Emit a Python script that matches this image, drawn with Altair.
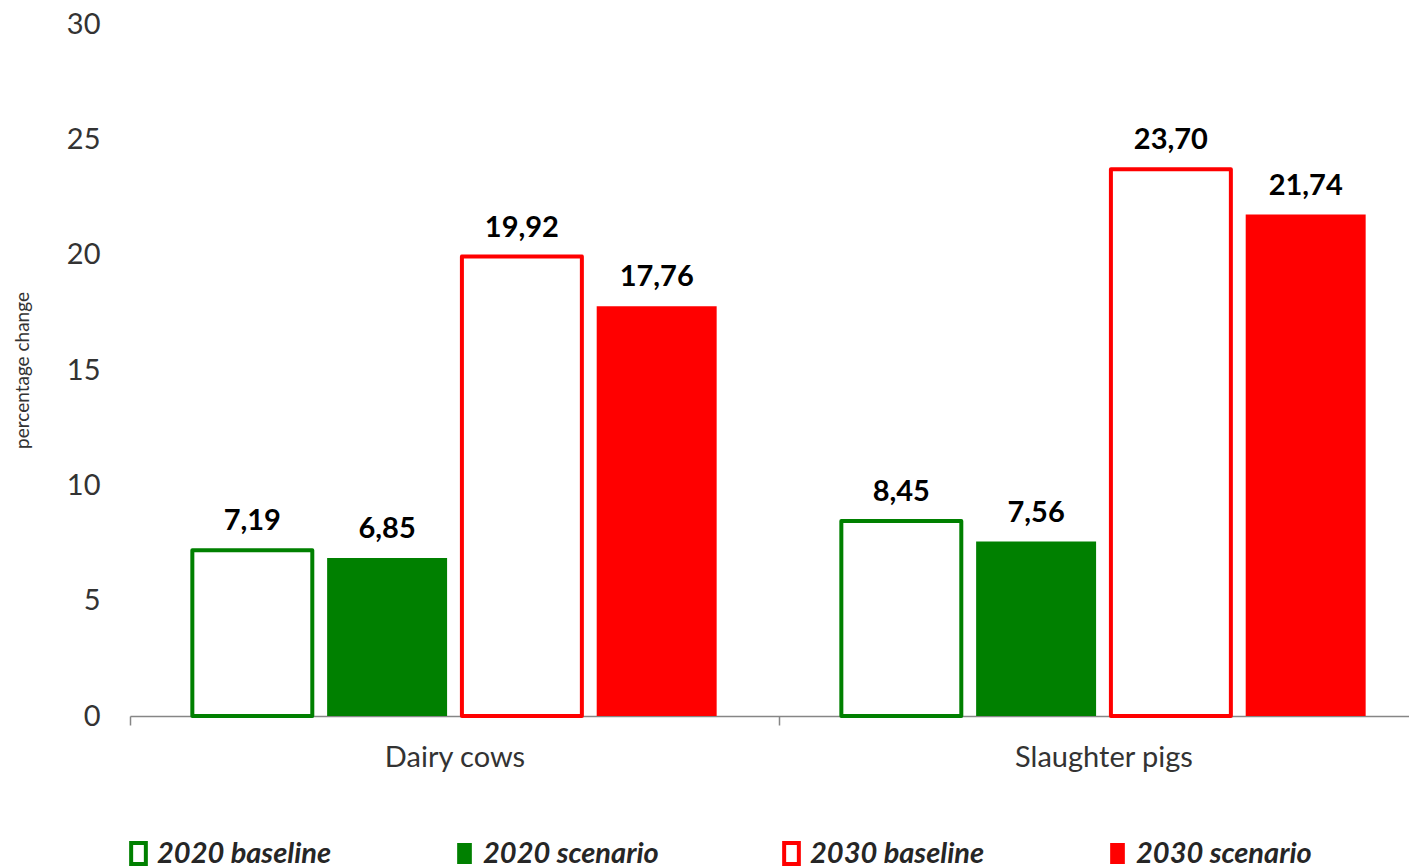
import altair as alt
import pandas as pd

categories = ["Dairy cows", "Slaughter pigs"]
series = ["2020 baseline", "2020 scenario", "2030 baseline", "2030 scenario"]
dairy_values = [7.19, 6.85, 19.92, 17.76]
pig_values = [8.45, 7.56, 23.70, 21.74]
fill_colors = ["white", "#008000", "white", "#FF0000"]
stroke_colors = ["#008000", "transparent", "#FF0000", "transparent"]
y_ticks = [0, 5, 10, 15, 20, 25, 30]

rows = []
for cat, vals in zip(categories, [dairy_values, pig_values]):
    for s, v in zip(series, vals):
        rows.append({"category": cat, "series": s, "value": v})
df = pd.DataFrame(rows)

FONT = "Lato"
legend_symbol = "M-0.7,-1L0.7,-1L0.7,1L-0.7,1Z"

leg = alt.Legend(
    title=None, orient="none", legendX=-6, legendY=815, direction="horizontal",
    columns=4, columnPadding=117, symbolType=legend_symbol, symbolSize=441,
    symbolStrokeWidth=4, labelFont=FONT, labelFontSize=29, labelFontStyle="italic",
    labelFontWeight="bold", labelColor="#262626", labelOffset=4, labelLimit=400,
)

x_enc = alt.X(
    "category:N", sort=categories,
    scale=alt.Scale(range=[0, 1298], paddingInner=0, paddingOuter=0),
    axis=alt.Axis(title=None, labelAngle=0, tickBand="extent", domainColor="#868686",
                  tickColor="#868686", tickSize=9, domainWidth=1.5, tickWidth=1.5,
                  labelFont=FONT, labelFontSize=29, labelColor="#333333", labelPadding=18),
)
xo_enc = alt.XOffset("series:N", sort=series,
                     scale=alt.Scale(paddingInner=0.11, paddingOuter=0.4625))
y_enc = alt.Y(
    "value:Q", scale=alt.Scale(domain=[0, 30], nice=False),
    axis=alt.Axis(values=y_ticks, title="percentage change", titleFont=FONT, titleFontSize=19,
                  titleFontWeight="normal", titleColor="#333333", titlePadding=34,
                  labelFont=FONT, labelFontSize=29, labelColor="#333333", labelPadding=30,
                  domain=False, ticks=False, grid=False),
)

bars = alt.Chart(df).mark_bar(strokeWidth=4, strokeJoin="round").encode(
    x=x_enc, xOffset=xo_enc, y=y_enc,
    fill=alt.Fill("series:N", sort=series, scale=alt.Scale(domain=series, range=fill_colors), legend=leg),
    stroke=alt.Stroke("series:N", sort=series, scale=alt.Scale(domain=series, range=stroke_colors), legend=leg),
)

labels = alt.Chart(df).transform_calculate(
    label="replace(format(datum.value, '.2f'), '.', ',')"
).mark_text(font=FONT, fontSize=29, fontWeight="bold", color="black",
            baseline="alphabetic", dy=-20).encode(
    x=x_enc, xOffset=xo_enc, y=y_enc, text="label:N"
)

chart = alt.layer(bars, labels).properties(
    width=1279, height=692,
    autosize=alt.AutoSizeParams(type="none"),
    padding={"left": 130, "top": 24, "right": 0, "bottom": 151},
    background="white",
).configure_view(stroke=None)

chart.save("out.html", embed_options={"renderer": "svg", "actions": False})
